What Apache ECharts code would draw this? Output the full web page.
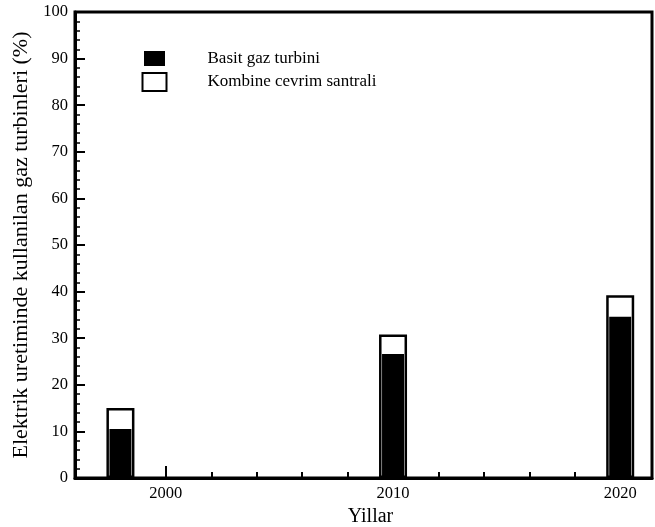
<!DOCTYPE html>
<html>
<head>
<meta charset="utf-8">
<script src="https://cdn.jsdelivr.net/npm/echarts@6/dist/echarts.min.js"></script>
<style>html,body{margin:0;padding:0;background:#fff}#c{width:655px;height:527px}</style>
</head>
<body>
<div id="c"></div>
<script>
var years = [1998, 2010, 2020];
var basitGaz = [10.5, 26.6, 34.6];
var kombine = [15.0, 30.8, 39.2];
var xLabelValues = [2000, 2010, 2020];
var seriesNames = ['Basit gaz turbini', 'Kombine cevrim santrali'];
var yName = 'Elektrik uretiminde kullanilan gaz turbinleri (%)';
var xName = 'Yillar';

var font = 'Liberation Serif, Times New Roman, serif';
var chart = echarts.init(document.getElementById('c'));
function pairs(xs, ys){ return xs.map(function(x,i){ return [x, ys[i]]; }); }

chart.setOption({
  animation: false,
  backgroundColor: '#fff',
  grid: {left: 75, right: 3, top: 12, bottom: 49, outerBoundsMode: 'none', containLabel: false,
         show: true, borderColor: '#000', borderWidth: 3, backgroundColor: 'transparent'},
  legend: {
    orient: 'vertical', left: 141, top: 48, padding: 0, itemGap: 3, itemWidth: 24, itemHeight: 18,
    textStyle: {fontFamily: font, fontSize: 17, color: '#000', padding: [0,0,0,36]},
    data: [
      {name: seriesNames[0], icon: 'rect', itemStyle: {color: '#000', borderColor: '#fff', borderWidth: 3}},
      {name: seriesNames[1], icon: 'rect', itemStyle: {color: '#fff', borderColor: '#000', borderWidth: 2}}
    ]
  },
  xAxis: [{
    type: 'value', min: 1996, max: 2021.4, position: 'bottom',
    name: xName, nameLocation: 'middle', nameGap: 26,
    nameTextStyle: {fontFamily: font, fontSize: 20, color: '#000', padding: [0,0,0,14]},
    axisLine: {show: true, lineStyle: {color: '#000', width: 3}},
    axisTick: {show: true, inside: true, length: 12, lineStyle: {color: '#000', width: 2}, customValues: xLabelValues},
    axisLabel: {show: true, customValues: xLabelValues, formatter: function(v){ return String(v); },
                fontFamily: font, fontSize: 16.5, color: '#000', margin: 7},
    splitLine: {show: false}
  }, {
    type: 'value', min: 1996, max: 2021.4, interval: 2, position: 'bottom',
    axisLine: {show: false},
    axisTick: {show: true, inside: true, length: 6, lineStyle: {color: '#000', width: 2}},
    axisLabel: {show: false},
    splitLine: {show: false}
  }],
  yAxis: {
    type: 'value', min: 0, max: 100, interval: 10,
    name: yName, nameLocation: 'middle', nameGap: 41,
    nameTextStyle: {fontFamily: font, fontSize: 22, color: '#000'},
    axisLine: {show: true, lineStyle: {color: '#000', width: 3}},
    axisTick: {show: true, inside: true, length: 10, lineStyle: {color: '#000', width: 2}},
    minorTick: {show: true, splitNumber: 5, length: 5, lineStyle: {color: '#000', width: 1.5}},
    axisLabel: {fontFamily: font, fontSize: 16.5, color: '#000', margin: 7},
    splitLine: {show: false}
  },
  series: [{
    name: seriesNames[1], type: 'bar', xAxisIndex: 0, barWidth: 28,
    data: pairs(years, kombine),
    itemStyle: {color: '#fff', borderColor: '#000', borderWidth: 2.5}, z: 2
  }, {
    name: seriesNames[0], type: 'bar', xAxisIndex: 1, barWidth: 22,
    data: pairs(years, basitGaz),
    itemStyle: {color: '#000'}, z: 3
  }]
});
</script>
</body>
</html>
